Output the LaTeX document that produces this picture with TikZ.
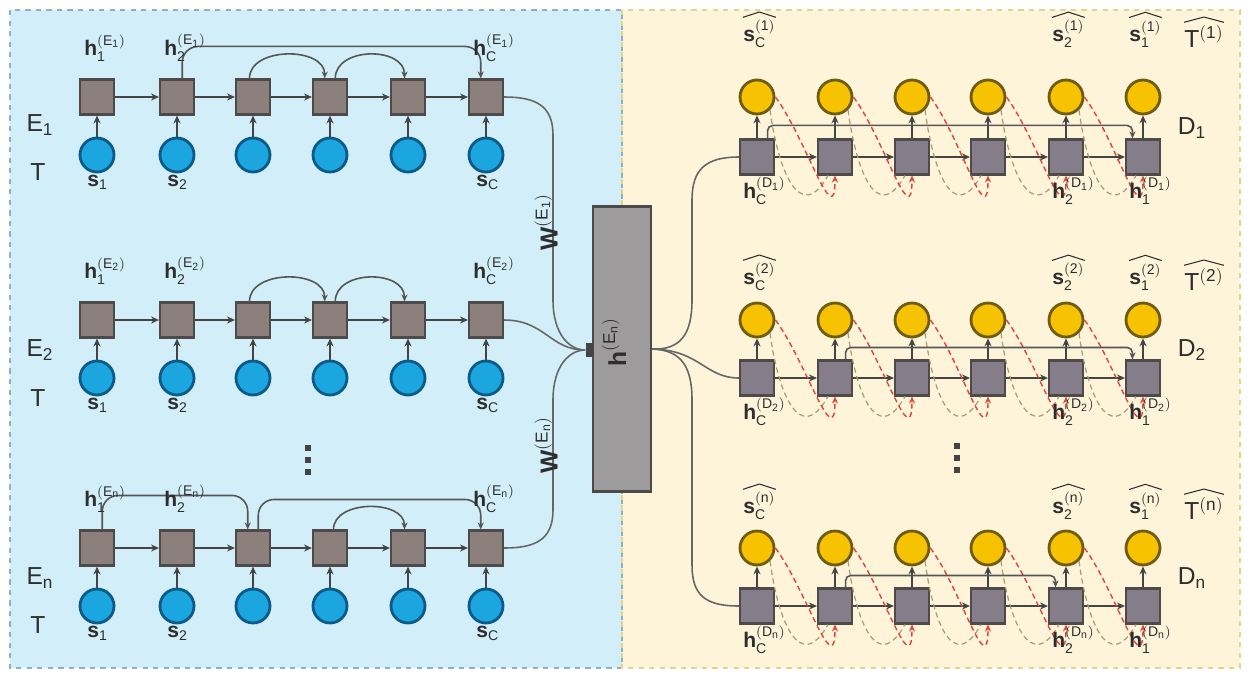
\documentclass[tikz,border=0pt]{standalone}
\usepackage{amsmath}
\usepackage{fontspec}
\setmainfont{Liberation Sans}
\setsansfont{Liberation Sans}
\setmathrm{Liberation Sans}
\usetikzlibrary{arrows.meta,calc}
\definecolor{leftbg}{HTML}{D2EEF9}
\definecolor{rightbg}{HTML}{FDF4DA}
\definecolor{leftbd}{HTML}{8FB0C4}
\definecolor{rightbd}{HTML}{E2D58A}
\definecolor{sqfill}{HTML}{8C807C}
\definecolor{dsqfill}{HTML}{857E8A}
\definecolor{sqline}{HTML}{4E4A4A}
\definecolor{bluefill}{HTML}{1CA6DF}
\definecolor{blueline}{HTML}{0C5A88}
\definecolor{yelfill}{HTML}{F7C200}
\definecolor{yelline}{HTML}{6E5C12}
\definecolor{linec}{HTML}{444444}
\definecolor{skipcol}{HTML}{555555}
\definecolor{linkcol}{HTML}{666666}
\definecolor{feedred}{HTML}{E0443A}
\definecolor{feedgray}{HTML}{A89C70}
\definecolor{barfill}{HTML}{9D9B9B}
\definecolor{barline}{HTML}{4A4A4A}
\definecolor{labcol}{HTML}{2E2E2E}
\newcommand{\mybh}{\text{\textbf{h}}}
\newcommand{\mybs}{\text{\textbf{s}}}
\newcommand{\hlab}[2]{$\mybh^{(\mathrm{#2})}_{\mathrm{#1}}$}
\newcommand{\slab}[1]{$\mybs_{\mathrm{#1}}$}
\newcommand{\shat}[2]{$\mybs^{(\mathrm{#2})}_{\mathrm{#1}}$}
\newcommand{\myThat}[1]{$\mathrm{T}^{(\mathrm{#1})}$}
\newcommand{\hatover}[1]{\draw[hatc] ([yshift=1.5pt]#1.north west) -- ([yshift=4.5pt]#1.north) -- ([yshift=1.5pt]#1.north east);}
\begin{document}
\begin{tikzpicture}[x=0.02cm,y=-0.02cm,
  esq/.style={rectangle,fill=sqfill,draw=sqline,line width=1.2pt,minimum width=0.68cm,minimum height=0.7cm,inner sep=0pt},
  dsq/.style={esq,fill=dsqfill},
  ecirc/.style={circle,fill=bluefill,draw=blueline,line width=1.6pt,minimum size=0.68cm,inner sep=0pt},
  dcirc/.style={ecirc,fill=yelfill,draw=yelline},
  conn/.style={draw=linec,line width=1.1pt,-{Stealth[length=4.5pt,width=4pt]}},
  skipc/.style={draw=skipcol,line width=0.9pt,-{Stealth[length=4pt,width=3.5pt]},rounded corners=9pt},
  skipd/.style={draw=skipcol,line width=0.9pt,-{Stealth[length=4pt,width=3.5pt]},rounded corners=3pt},
  feed/.style={draw=feedred,line width=0.8pt,dash pattern=on 3pt off 2pt,-{Stealth[length=4pt,width=3.5pt]}},
  feedg/.style={draw=feedgray,line width=0.7pt,dash pattern=on 3pt off 2pt},
  link/.style={draw=linkcol,line width=0.9pt},
  hatc/.style={draw=labcol,line width=0.6pt,line join=round},
  lab/.style={font=\fontsize{12}{13}\selectfont,inner sep=0pt,text=labcol},
  big/.style={font=\fontsize{14}{15}\selectfont,inner sep=0pt,text=labcol},
  dotc/.style={rectangle,fill=linec,minimum size=0.11cm,inner sep=0pt}
]
\useasboundingbox (0,0) rectangle (1250,677);
\fill[white] (0,0) rectangle (1250,677);
\fill[leftbg] (10,10) rectangle (622,668);
\fill[rightbg] (622,10) rectangle (1240,668);
\draw[leftbd,dashed,line width=1pt] (10,10) rectangle (622,668);
\draw[rightbd,dashed,line width=1pt] (622,10) rectangle (1240,668);

% ---------------- encoders ----------------
\foreach \r/\ys/\yc in {1/97/155,2/320/378,3/548/606}{
  \foreach \x [count=\i] in {97,177,253,330,408,486}{
    \node[esq] (e\r-\i) at (\x,\ys) {};
    \node[ecirc] (c\r-\i) at (\x,\yc) {};
    \draw[conn] (c\r-\i) -- (e\r-\i);
  }
  \foreach \i/\j in {1/2,2/3,3/4,4/5,5/6}{
    \draw[conn] (e\r-\i) -- (e\r-\j);
  }
}
% skip connections
\draw[skipc] ([xshift=3pt]e1-2.north) -- ++(0,-32) -| ([xshift=-3pt]e1-6.north);
\draw[skipc] ([xshift=-2pt]e1-3.north) .. controls +(0,-32) and +(0,-32) .. ([xshift=-3pt]e1-4.north);
\draw[skipc] ([xshift=3pt]e1-4.north) .. controls +(0,-32) and +(0,-32) .. ([xshift=-2pt]e1-5.north);
\draw[skipc] ([xshift=-2pt]e2-3.north) .. controls +(0,-32) and +(0,-32) .. ([xshift=-3pt]e2-4.north);
\draw[skipc] ([xshift=3pt]e2-4.north) .. controls +(0,-32) and +(0,-32) .. ([xshift=-2pt]e2-5.north);
\draw[skipc] ([xshift=3pt]e3-1.north) -- ++(0,-34) -| ([xshift=-3pt]e3-3.north);
\draw[skipc] ([xshift=3pt]e3-3.north) -- ++(0,-30) -| ([xshift=-3pt]e3-6.north);
\draw[skipc] ([xshift=2pt]e3-4.north) .. controls +(0,-30) and +(0,-30) .. ([xshift=-2pt]e3-5.north);

% encoder labels
\node[lab,anchor=south west] (he11) at (84,62) {\hlab{1}{E_1}};
\node[lab,anchor=south west] (he12) at (164,62) {\hlab{2}{E_1}};
\node[lab,anchor=south west] (he1c) at (473,62) {\hlab{C}{E_1}};
\node[lab,anchor=north west] (se11) at (87,175) {\slab{1}};
\node[lab,anchor=north west] (se12) at (167,175) {\slab{2}};
\node[lab,anchor=north west] (se1c) at (476,175) {\slab{C}};
\node[lab,anchor=south west] (he21) at (84,285) {\hlab{1}{E_2}};
\node[lab,anchor=south west] (he22) at (164,285) {\hlab{2}{E_2}};
\node[lab,anchor=south west] (he2c) at (473,285) {\hlab{C}{E_2}};
\node[lab,anchor=north west] (se21) at (87,398) {\slab{1}};
\node[lab,anchor=north west] (se22) at (167,398) {\slab{2}};
\node[lab,anchor=north west] (se2c) at (476,398) {\slab{C}};
\node[lab,anchor=south west] (he31) at (84,513) {\hlab{1}{E_n}};
\node[lab,anchor=south west] (he32) at (164,513) {\hlab{2}{E_n}};
\node[lab,anchor=south west] (he3c) at (473,513) {\hlab{C}{E_n}};
\node[lab,anchor=north west] (se31) at (87,626) {\slab{1}};
\node[lab,anchor=north west] (se32) at (167,626) {\slab{2}};
\node[lab,anchor=north west] (se3c) at (476,626) {\slab{C}};
\node[big] (E1) at (40,125) {E$_{\mathrm{1}}$};
\node[big] (T1) at (38,172) {T};
\node[big] (E2) at (40,350) {E$_{\mathrm{2}}$};
\node[big] (T2) at (38,398) {T};
\node[big] (E3) at (40,578) {E$_{\mathrm{n}}$};
\node[big] (T3) at (38,625) {T};
\node[dotc] (ed1) at (308,448) {};
\node[dotc] (ed2) at (308,460) {};
\node[dotc] (ed3) at (308,472) {};

% ---------------- shared representation ----------------
\node[draw=barline,fill=barfill,line width=1.2pt,minimum width=1.16cm,minimum height=5.7cm,inner sep=0pt] (hb) at (622,349) {};
\node[rectangle,fill=linec,minimum width=0.14cm,minimum height=0.28cm,inner sep=0pt] (pt) at (589,350) {};
\node[big,rotate=90] (hblab) at (614,342) {$\mybh^{(\mathrm{E_n})}$};

\draw[link] (e1-6.east) .. controls (535,97) and (553,105) .. (553,135) -- (553,300) .. controls (553,335) and (570,350) .. (pt.west);
\draw[link] (e2-6.east) .. controls (545,320) and (550,350) .. (pt.west);
\draw[link] (e3-6.east) .. controls (535,548) and (553,540) .. (553,510) -- (553,400) .. controls (553,365) and (570,350) .. (pt.west);
\node[big,rotate=90] (w1) at (546,222) {$\text{\textbf{W}}^{(\mathrm{E_1})}$};
\node[big,rotate=90] (wn) at (546,445) {$\text{\textbf{W}}^{(\mathrm{E_n})}$};

% ---------------- decoders ----------------
\foreach \r/\yc/\ys in {1/97/157,2/320/378,3/548/606}{
  \foreach \x [count=\i] in {757,835,912,988,1066,1143}{
    \node[dsq] (d\r-\i) at (\x,\ys) {};
    \node[dcirc] (o\r-\i) at (\x,\yc) {};
    \draw[conn] (d\r-\i) -- (o\r-\i);
  }
  \foreach \i/\j in {1/2,2/3,3/4,4/5,5/6}{
    \draw[conn] (d\r-\i) -- (d\r-\j);
    \draw[feedg] (o\r-\i.south east) .. controls +(8,60) and +(-28,50) .. ([xshift=-4pt]d\r-\j.south);
    \draw[feed] (o\r-\i.east) .. controls +(30,40) and +(0,60) .. (d\r-\j.south);
  }
}
\draw[skipd] ([xshift=6pt]d1-1.north) -- ++(0,-13) -| ([xshift=-6pt]d1-6.north);
\draw[skipd] ([xshift=6pt]d2-2.north) -- ++(0,-12) -| ([xshift=-6pt]d2-6.north);
\draw[skipd] ([xshift=6pt]d3-2.north) -- ++(0,-12) -| ([xshift=-6pt]d3-5.north);

\draw[link] (hb.east) .. controls (680,350) and (692,335) .. (692,300) -- (692,200) .. controls (692,170) and (705,157) .. (d1-1.west);
\draw[link] (hb.east) .. controls (700,350) and (705,378) .. (d2-1.west);
\draw[link] (hb.east) .. controls (680,350) and (692,365) .. (692,400) -- (692,565) .. controls (692,595) and (705,606) .. (d3-1.west);

% decoder labels
\node[lab,anchor=south west] (sd1c) at (743,48) {\shat{C}{1}};
\node[lab,anchor=south west] (sd12) at (1052,48) {\shat{2}{1}};
\node[lab,anchor=south west] (sd11) at (1129,48) {\shat{1}{1}};
\node[big,anchor=south west] (td1) at (1184,48) {\myThat{1}};
\node[lab,anchor=north west] (hd1c) at (743,177) {\hlab{C}{D_1}};
\node[lab,anchor=north west] (hd12) at (1052,177) {\hlab{2}{D_1}};
\node[lab,anchor=north west] (hd11) at (1129,177) {\hlab{1}{D_1}};
\node[big] (D1) at (1192,128) {D$_{\mathrm{1}}$};

\node[lab,anchor=south west] (sd2c) at (743,291) {\shat{C}{2}};
\node[lab,anchor=south west] (sd22) at (1052,291) {\shat{2}{2}};
\node[lab,anchor=south west] (sd21) at (1129,291) {\shat{1}{2}};
\node[big,anchor=south west] (td2) at (1184,291) {\myThat{2}};
\node[lab,anchor=north west] (hd2c) at (743,398) {\hlab{C}{D_2}};
\node[lab,anchor=north west] (hd22) at (1052,398) {\hlab{2}{D_2}};
\node[lab,anchor=north west] (hd21) at (1129,398) {\hlab{1}{D_2}};
\node[big] (D2) at (1192,350) {D$_{\mathrm{2}}$};

\node[lab,anchor=south west] (sd3c) at (743,520) {\shat{C}{n}};
\node[lab,anchor=south west] (sd32) at (1052,520) {\shat{2}{n}};
\node[lab,anchor=south west] (sd31) at (1129,520) {\shat{1}{n}};
\node[big,anchor=south west] (td3) at (1184,520) {\myThat{n}};
\node[lab,anchor=north west] (hd3c) at (743,626) {\hlab{C}{D_n}};
\node[lab,anchor=north west] (hd32) at (1052,626) {\hlab{2}{D_n}};
\node[lab,anchor=north west] (hd31) at (1129,626) {\hlab{1}{D_n}};
\node[big] (D3) at (1192,578) {D$_{\mathrm{n}}$};

\foreach \nd in {sd1c,sd12,sd11,td1,sd2c,sd22,sd21,td2,sd3c,sd32,sd31,td3}{
  \hatover{\nd}
}

\node[dotc] (dd1) at (957,446) {};
\node[dotc] (dd2) at (957,458) {};
\node[dotc] (dd3) at (957,470) {};
\end{tikzpicture}
\end{document}
